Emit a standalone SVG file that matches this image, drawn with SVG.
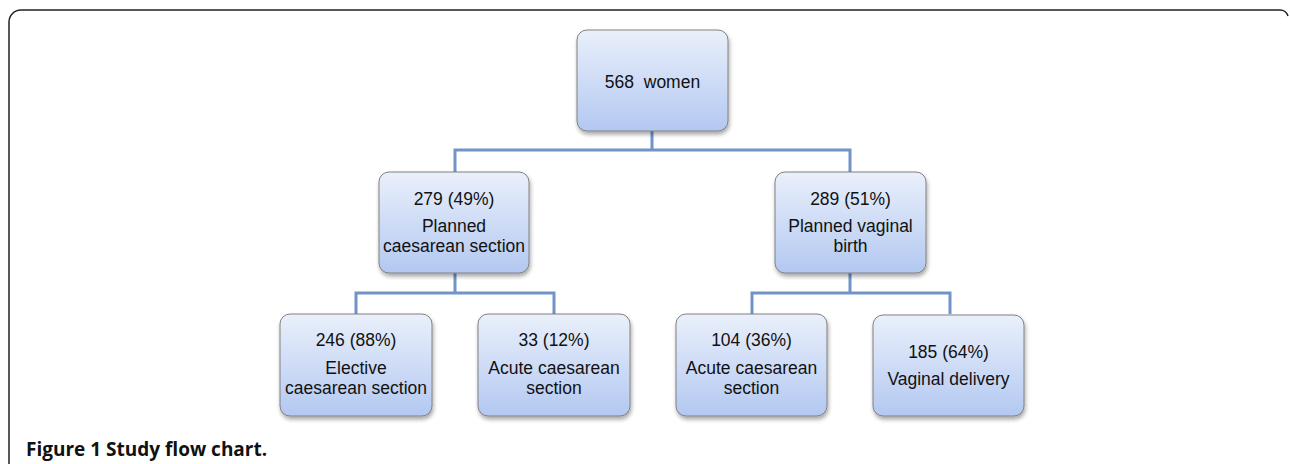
<svg xmlns="http://www.w3.org/2000/svg" width="1290" height="464" viewBox="0 0 1290 464">
<defs>
<linearGradient id="g" x1="0" y1="0" x2="0" y2="1">
<stop offset="0" stop-color="#eaf0fb"/>
<stop offset="1" stop-color="#b3c8f1"/>
</linearGradient>
<filter id="sh" x="-10%" y="-10%" width="130%" height="130%">
<feGaussianBlur in="SourceAlpha" stdDeviation="2"/>
<feOffset dx="1" dy="3" result="b"/>
<feComponentTransfer><feFuncA type="linear" slope="0.35"/></feComponentTransfer>
<feMerge><feMergeNode/><feMergeNode in="SourceGraphic"/></feMerge>
</filter>
</defs>
<style>
.box{fill:url(#g);stroke:#808080;stroke-width:1;filter:url(#sh)}
.t{font-family:"Liberation Sans",Arial,sans-serif;font-size:17.5px;fill:#111;text-anchor:middle}
.c{fill:none;stroke:#7094c8;stroke-width:3}
.cap{font-family:"Open Sans","Liberation Sans",sans-serif;font-weight:bold;font-size:19px;fill:#111}
</style>
<path d="M9,470 V22 A12,12 0 0 1 21,10 H1280 Q1286,10 1288,16" fill="none" stroke="#222" stroke-width="1.5"/>
<g id="connectors">
<path class="c" d="M652,131 V150 M455,150 H850 M455,148.5 V172 M850,148.5 V172"/>
<path class="c" d="M455,273 V293 M356,293 H554 M356,291.5 V314 M554,291.5 V314"/>
<path class="c" d="M850,273 V293 M752,293 H950 M752,291.5 V314 M950,291.5 V314"/>
</g>
<g id="n0"><rect class="box" x="577" y="30" width="151" height="101" rx="10"/><text class="t" x="652.5" y="88">568&#160; women</text></g>
<g id="n1"><rect class="box" x="379" y="172" width="150" height="101" rx="10"/><text class="t" x="454" y="205">279 (49%)</text><text class="t" x="454" y="232">Planned</text><text class="t" x="454" y="252">caesarean section</text></g>
<g id="n2"><rect class="box" x="775" y="172" width="151" height="101" rx="10"/><text class="t" x="850.5" y="205">289 (51%)</text><text class="t" x="850.5" y="232">Planned vaginal</text><text class="t" x="850.5" y="252">birth</text></g>
<g id="n3"><rect class="box" x="280" y="314" width="152" height="102" rx="10"/><text class="t" x="356" y="346">246 (88%)</text><text class="t" x="356" y="374">Elective</text><text class="t" x="356" y="394">caesarean section</text></g>
<g id="n4"><rect class="box" x="478" y="314" width="152" height="102" rx="10"/><text class="t" x="554" y="346">33 (12%)</text><text class="t" x="554" y="374">Acute caesarean</text><text class="t" x="554" y="394">section</text></g>
<g id="n5"><rect class="box" x="676" y="314" width="151" height="102" rx="10"/><text class="t" x="751.5" y="346">104 (36%)</text><text class="t" x="751.5" y="374">Acute caesarean</text><text class="t" x="751.5" y="394">section</text></g>
<g id="n6"><rect class="box" x="873" y="315" width="151" height="101" rx="10"/><text class="t" x="948.5" y="358">185 (64%)</text><text class="t" x="948.5" y="385">Vaginal delivery</text></g>
<text class="cap" x="26" y="456">Figure 1 Study flow chart.</text>
</svg>
